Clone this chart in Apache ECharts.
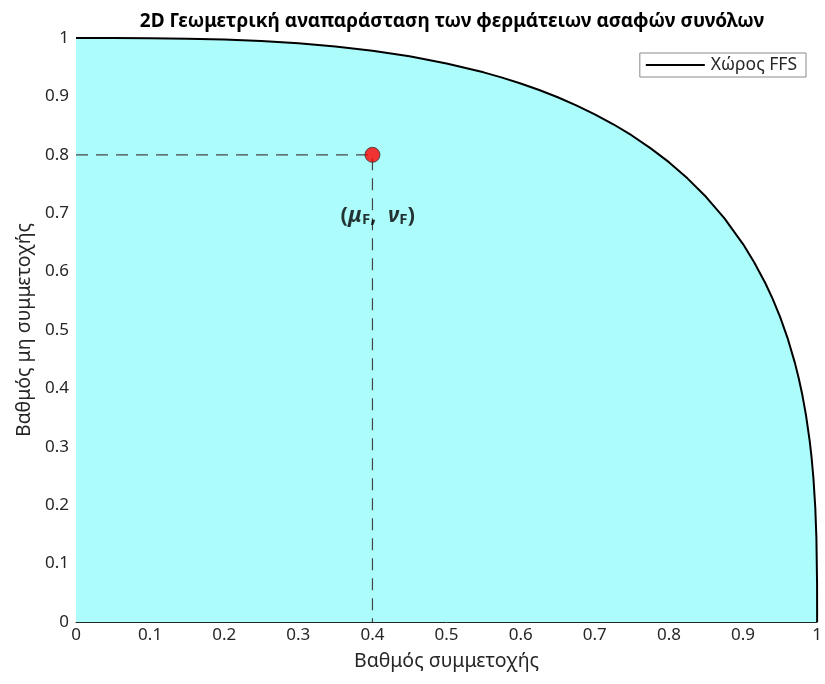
<!DOCTYPE html>
<html>
<head>
<meta charset="utf-8">
<script src="https://cdn.jsdelivr.net/npm/echarts@6/dist/echarts.min.js"></script>
<style>
  html, body { margin: 0; padding: 0; background: #fff; }
  #main { width: 825px; height: 684px; }
</style>
</head>
<body>
<div id="main"></div>
<script>
// FFS boundary (membership, non-membership)
var muVals = [0, 0.05, 0.1, 0.15, 0.2, 0.25, 0.3, 0.35, 0.4, 0.45, 0.5, 0.55, 0.575, 0.6, 0.625, 0.65, 0.675, 0.7, 0.725, 0.75, 0.775, 0.8, 0.825, 0.85, 0.875, 0.9, 0.915, 0.93, 0.94, 0.95, 0.96, 0.97, 0.975, 0.98, 0.985, 0.99, 0.9925, 0.995, 0.9975, 0.999, 0.9999, 1];
var nuVals = [1, 1, 0.9997, 0.9989, 0.9973, 0.9948, 0.9909, 0.9855, 0.9782, 0.9689, 0.9565, 0.9412, 0.9322, 0.9221, 0.9109, 0.8985, 0.8846, 0.8693, 0.8523, 0.8331, 0.8115, 0.7874, 0.7597, 0.7281, 0.6911, 0.6471, 0.6161, 0.5805, 0.5534, 0.5225, 0.4866, 0.4437, 0.4183, 0.389, 0.3539, 0.3097, 0.2817, 0.2462, 0.1956, 0.1442, 0.0669, 0];
var pointF = [0.4, 0.8];
var labelPos = [0.407, 0.7];

var font = '"Noto Sans", "Liberation Sans", Arial, sans-serif';
var axisCol = '#262626';

var curve = muVals.map(function (m, i) { return [m, nuVals[i]]; });
var guide = [[0, pointF[1]], pointF, [pointF[0], 0]];

var chart = echarts.init(document.getElementById('main'));

function axisCfg(name, gap, rotate) {
  return {
    type: 'value',
    min: 0, max: 1, interval: 0.1,
    name: name,
    nameLocation: 'middle',
    nameGap: gap,
    nameRotate: rotate,
    nameTextStyle: { fontFamily: font, fontSize: 19.5, color: axisCol },
    axisLine: { show: true, lineStyle: { color: axisCol, width: 1 } },
    axisTick: { show: true, inside: true, length: 5, lineStyle: { color: axisCol } },
    axisLabel: {
      fontFamily: font, fontSize: 17, color: axisCol,
      formatter: function (v) { return String(Math.round(v * 10) / 10); }
    },
    splitLine: { show: false }
  };
}

var xa = axisCfg('Βαθμός συμμετοχής', 29, 0);
xa.axisLabel.margin = 5;
var ya = axisCfg('Βαθμός μη συμμετοχής', 41, 90);
ya.axisLabel.margin = 7;

chart.setOption({
  backgroundColor: '#ffffff',
  animation: false,
  title: {
    text: '2D Γεωμετρική αναπαράσταση των φερμάτειων ασαφών συνόλων',
    left: 447, top: 7, textAlign: 'center',
    textStyle: { fontFamily: font, fontSize: 19, fontWeight: 'bold', color: '#000' }
  },
  legend: {
    right: 19, top: 53,
    data: [{ name: 'Χώρος FFS', icon: 'rect' }],
    itemWidth: 59, itemHeight: 2, itemGap: 4,
    padding: [3, 9, 3, 6],
    borderColor: '#8a8a8a', borderWidth: 1,
    backgroundColor: '#fff',
    textStyle: { fontFamily: font, fontSize: 17.5, color: axisCol, padding: [0, 0, 0, 1] }
  },
  grid: { left: 76, right: 7, top: 38, bottom: 62, containLabel: false },
  xAxis: xa,
  yAxis: ya,
  series: [
    {
      name: 'Χώρος FFS',
      type: 'line',
      data: curve,
      symbol: 'none',
      itemStyle: { color: '#000' },
      lineStyle: { color: '#000', width: 2 },
      areaStyle: { color: '#adfcfc', opacity: 1 },
      z: 2
    },
    {
      name: 'guide',
      type: 'line',
      data: guide,
      symbol: 'none',
      lineStyle: { color: '#454545', width: 1.2, type: [12, 8] },
      z: 3
    },
    {
      name: 'F',
      type: 'scatter',
      data: [pointF],
      symbolSize: 15,
      itemStyle: { color: '#ff0000', borderColor: '#333', borderWidth: 1 },
      z: 5
    },
    {
      name: 'label',
      type: 'scatter',
      data: [labelPos],
      symbolSize: 1,
      itemStyle: { color: 'rgba(0,0,0,0)' },
      label: {
        show: true,
        position: 'inside',
        formatter: '{p|(}{g|μ}{s|F}{p|,  }{g|ν}{s|F}{p|)}',
        rich: {
          p: { fontFamily: font, fontSize: 22, fontWeight: 'bold', color: '#000', verticalAlign: 'bottom', lineHeight: 28 },
          g: { fontFamily: font, fontSize: 22, fontWeight: 'bold', fontStyle: 'italic', color: '#000', verticalAlign: 'bottom', lineHeight: 28 },
          s: { fontFamily: font, fontSize: 15, fontWeight: 'bold', color: '#000', verticalAlign: 'bottom', lineHeight: 22 }
        }
      },
      z: 6
    }
  ]
});
</script>
</body>
</html>
